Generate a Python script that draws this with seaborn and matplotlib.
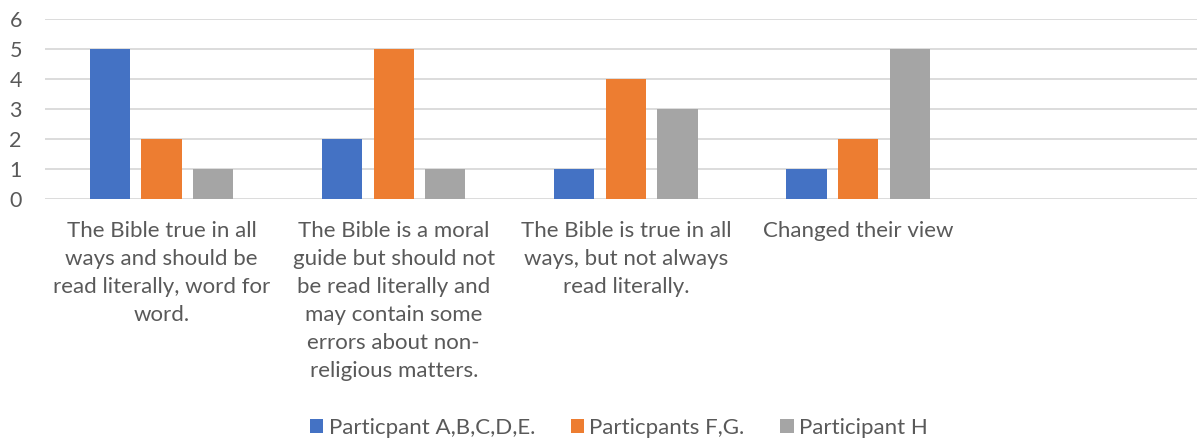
import matplotlib
matplotlib.use("Agg")
import matplotlib.pyplot as plt
import seaborn as sns
import pandas as pd
from matplotlib.patches import Patch

categories = [
    "The Bible true in all\nways and should be\nread literally, word for\nword.",
    "The Bible is a moral\nguide but should not\nbe read literally and\nmay contain some\nerrors about non-\nreligious matters.",
    "The Bible is true in all\nways, but not always\nread literally.",
    "Changed their view",
]
series_names = ["Particpant A,B,C,D,E.", "Particpants F,G.", "Participant H"]
series_a = [5, 2, 1, 1]
series_fg = [2, 5, 4, 2]
series_h = [1, 1, 3, 5]
colors = ["#4472C4", "#ED7D31", "#A5A5A5"]
y_ticks = [0, 1, 2, 3, 4, 5, 6]

rows = []
for name, vals in zip(series_names, [series_a, series_fg, series_h]):
    for c, v in zip(categories, vals):
        rows.append({"cat": c, "series": name, "value": v})
df = pd.DataFrame(rows)

sns.set_style("white")
plt.rcParams["font.family"] = ["Lato", "DejaVu Sans"]

fig = plt.figure(figsize=(11.97, 4.4), dpi=100)
ax = fig.add_axes([45.4 / 1197, (440 - 199) / 440, 1161 / 1197, 180 / 440])

sns.barplot(data=df, x="cat", y="value", hue="series", order=categories,
            hue_order=series_names, palette=colors, width=0.667, gap=0.22,
            ax=ax, legend=False, saturation=1, linewidth=0)

ax.set_xlim(-0.5, 4.5)
ax.set_ylim(0, 6)
ax.set_yticks(y_ticks)
ax.yaxis.grid(True, color="#D9D9D9", linewidth=1.3)
ax.set_axisbelow(True)
for s in ax.spines.values():
    s.set_visible(False)
ax.set_xlabel("")
ax.set_ylabel("")
ax.tick_params(axis="y", length=0, pad=17, labelsize=15.5, labelcolor="#595959")
ax.tick_params(axis="x", length=0, pad=16, labelsize=16, labelcolor="#595959")
for lbl in ax.get_xticklabels():
    lbl.set_linespacing(1.5)
    lbl.set_verticalalignment("top")
    lbl.set_horizontalalignment("center")

handles = [Patch(facecolor=c, edgecolor="none") for c in colors]
fig.legend(handles, series_names, loc="center", bbox_to_anchor=(0.517, 0.027),
           ncol=3, frameon=False, fontsize=16, handlelength=0.6, handleheight=0.6,
           handletextpad=0.25, columnspacing=1.6, labelcolor="#595959")

fig.savefig("out.png", dpi=100)
